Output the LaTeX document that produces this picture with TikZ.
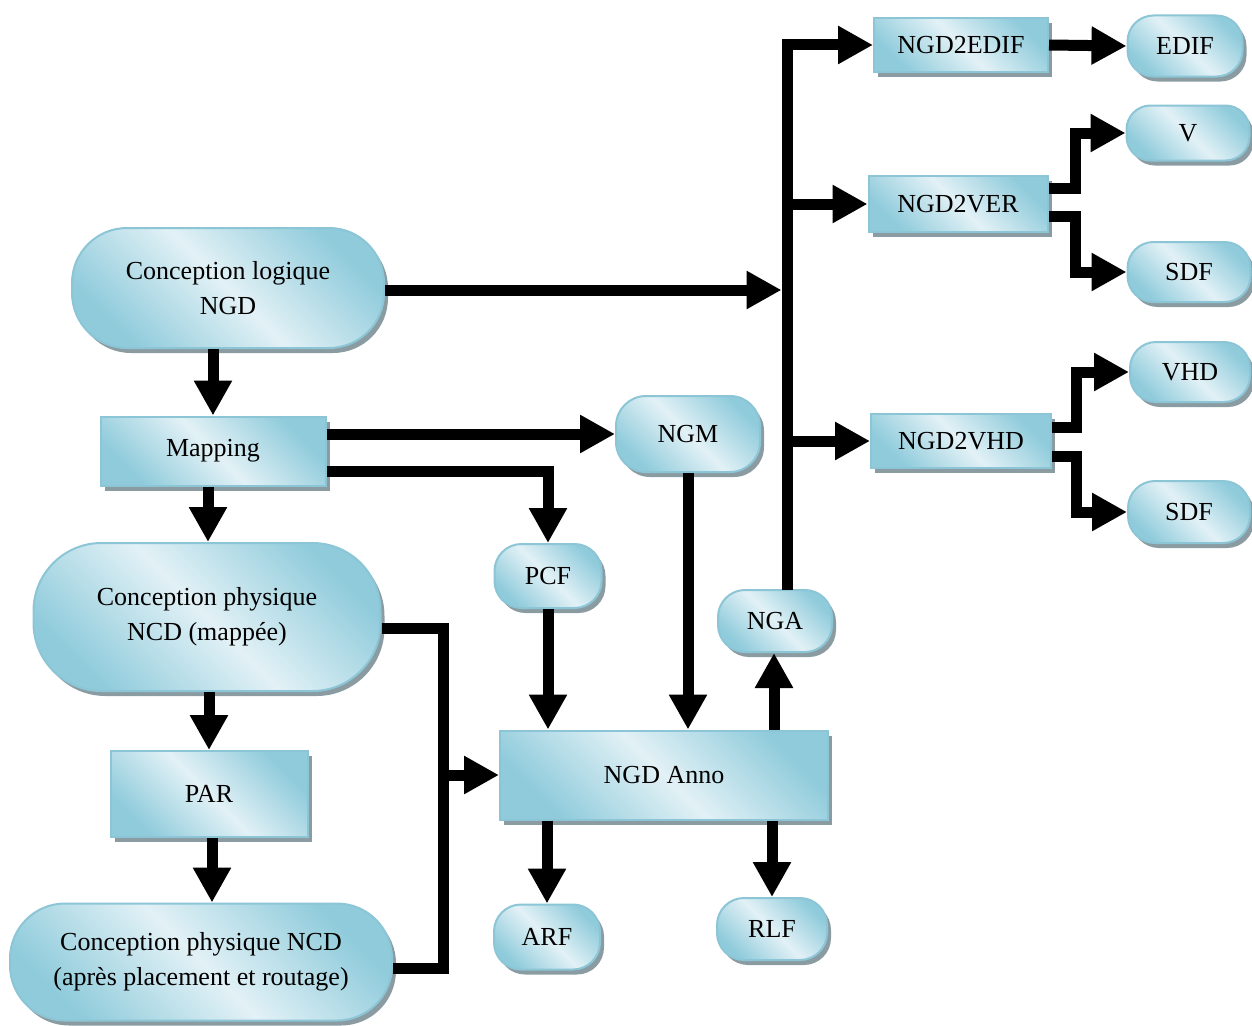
\documentclass[tikz,border=0pt]{standalone}
\usepackage{fontspec}
\setmainfont{Liberation Serif}
\usetikzlibrary{arrows.meta,shadows}
\definecolor{boxdark}{HTML}{8FCBDB}
\definecolor{boxlight}{HTML}{E2F1F6}
\definecolor{boxline}{HTML}{8CC6D6}
\definecolor{shadowgray}{HTML}{8A9CA2}
\begin{document}
\begin{tikzpicture}[x=1pt,y=-1pt,
  box/.style={draw=boxline, line width=2pt,
    left color=boxdark, right color=boxdark, middle color=boxlight, shading angle=135,
    drop shadow={shadow xshift=4pt, shadow yshift=-5pt, fill=shadowgray, opacity=1},
    font=\fontsize{26}{35}\selectfont, align=center, inner sep=0pt},
  rect/.style={box},
  pill/.style={box, rounded corners=#1},
  flow/.style={line width=11pt, line join=miter, -{Triangle[length=35pt,width=36pt]}},
  bar/.style={line width=11pt, line join=miter}]
\useasboundingbox (0,0) rectangle (1252,1025);

% left column
\node[pill=55pt, minimum width=312pt, minimum height=120pt] (logique) at (228,288) {Conception logique\\NGD};
\node[rect, minimum width=225pt, minimum height=69pt] (mapping) at (213,451) {Mapping};
\node[pill=68pt, minimum width=347pt, minimum height=148pt] (mappee) at (207,617) {Conception physique\\NCD (mappée)};
\node[rect, minimum width=197pt, minimum height=86pt] (par) at (209,794) {PAR};
\node[pill=55pt, minimum width=382pt, minimum height=117pt] (apres) at (201,962) {Conception physique NCD\\(après placement et routage)};

% middle column
\node[pill=30pt, minimum width=144pt, minimum height=76pt] (ngm) at (688,434) {NGM};
\node[pill=27pt, minimum width=107pt, minimum height=64pt] (pcf) at (548,576) {PCF};
\node[pill=27pt, minimum width=114pt, minimum height=62pt] (nga) at (775,621) {NGA};
\node[rect, minimum width=328pt, minimum height=89pt] (anno) at (664,775) {NGD Anno};
\node[pill=27pt, minimum width=106pt, minimum height=65pt] (arf) at (547,937) {ARF};
\node[pill=27pt, minimum width=110pt, minimum height=62pt] (rlf) at (772,929) {RLF};

% right column
\node[rect, minimum width=174pt, minimum height=54pt] (edif2) at (961,45) {NGD2EDIF};
\node[pill=26pt, minimum width=115pt, minimum height=61pt] (edif) at (1185,46) {EDIF};
\node[rect, minimum width=179pt, minimum height=56pt] (ver2) at (958,204) {NGD2VER};
\node[pill=24pt, minimum width=123pt, minimum height=55pt] (v) at (1188,133) {V};
\node[pill=26pt, minimum width=123pt, minimum height=60pt] (sdfa) at (1189,272) {SDF};
\node[rect, minimum width=180pt, minimum height=54pt] (vhd2) at (961,441) {NGD2VHD};
\node[pill=26pt, minimum width=120pt, minimum height=60pt] (vhd) at (1190,372) {VHD};
\node[pill=27pt, minimum width=122pt, minimum height=62pt] (sdfb) at (1189,512) {SDF};

% bus feeding the converters
\coordinate (bus) at (787,45);
\coordinate (busfoot) at (787,590);
\draw[flow] (busfoot) |- (edif2.west);
\draw[flow] (bus |- ver2.west) -- (ver2.west);
\draw[flow] (bus |- vhd2.west) -- (vhd2.west);
\draw[flow, shorten >=5.5pt] ([yshift=-2pt]logique.east) -- ([yshift=-2pt]bus |- logique.east);

% vertical flow on the left
\draw[flow] (mapping.north |- logique.south) -- (mapping.north);
\draw[flow] ([xshift=-5pt]mapping.south) -- ([xshift=-5pt]mapping.south |- mappee.north);
\draw[flow] (par.north |- mappee.south) -- (par.north);
\draw[flow] ([xshift=3pt]par.south) -- ([xshift=3pt]par.south |- apres.north);

% mapping outputs
\draw[flow] (mapping.east |- ngm.west) -- (ngm.west);
\draw[flow] ([yshift=-20pt]mapping.east) -| (pcf.north);

% inputs of NGD Anno
\draw[flow] (ngm.south) -- (ngm.south |- anno.north);
\draw[flow] (pcf.south) -- (pcf.south |- anno.north);
\coordinate (brk) at (443,968);
\draw[bar] ([yshift=-11pt]mappee.east) -| (brk) -- ([yshift=-6pt]apres.east);
\draw[flow] (brk |- anno.west) -- (anno.west);

% outputs of NGD Anno
\draw[flow] ([xshift=-1pt]nga.south |- anno.north) -- ([xshift=-1pt]nga.south);
\draw[flow] (arf.north |- anno.south) -- (arf.north);
\draw[flow] (rlf.north |- anno.south) -- (rlf.north);

% converter outputs
\draw[flow] (edif2.east) -- (edif.west);
\draw[flow] ([yshift=16pt]ver2.east) -- ++(27,0) |- (v.west);
\draw[flow] ([yshift=-12pt]ver2.east) -- ++(27,0) |- (sdfa.west);
\draw[flow] ([yshift=14pt]vhd2.east) -- ++(24,0) |- (vhd.west);
\draw[flow] ([yshift=-15pt]vhd2.east) -- ++(24,0) |- (sdfb.west);
\end{tikzpicture}
\end{document}
